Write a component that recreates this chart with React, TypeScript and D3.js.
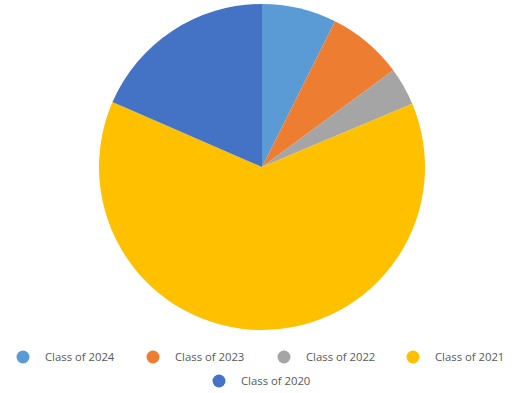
import React from "react";
import * as d3 from "d3";

const categories = ["Class of 2024", "Class of 2023", "Class of 2022", "Class of 2021", "Class of 2020"];
const values = [20, 20.3, 10.2, 170, 50];
const colors = ["#5B9BD5", "#ED7D31", "#A5A5A5", "#FFC000", "#4472C4"];

export default function App() {
  const W = 514, H = 393;
  const cx = 262, cy = 167, r = 163;
  const pie = d3.pie<number>().sort(null).value((d) => d)(values);
  const arc = d3.arc<d3.PieArcDatum<number>>().innerRadius(0).outerRadius(r);
  const legendPos = [
    { x: 23, y: 357 },
    { x: 153, y: 357 },
    { x: 284, y: 357 },
    { x: 413, y: 357 },
    { x: 219, y: 381 },
  ];
  return (
    <svg width={W} height={H} style={{ position: "absolute", left: 0, top: 0 }}>
      <rect width={W} height={H} fill="#fff" />
      <g transform={`translate(${cx},${cy})`}>
        {pie.map((p, i) => (
          <path key={i} d={arc(p) || ""} fill={colors[i]} />
        ))}
      </g>
      {categories.map((c, i) => (
        <g key={c}>
          <circle cx={legendPos[i].x} cy={legendPos[i].y} r={6.5} fill={colors[i]} />
          <text
            x={legendPos[i].x + 22}
            y={legendPos[i].y}
            dy="0.35em"
            fontFamily="Open Sans, sans-serif"
            fontSize={11.3}
            fill="#595959"
          >
            {c}
          </text>
        </g>
      ))}
    </svg>
  );
}
